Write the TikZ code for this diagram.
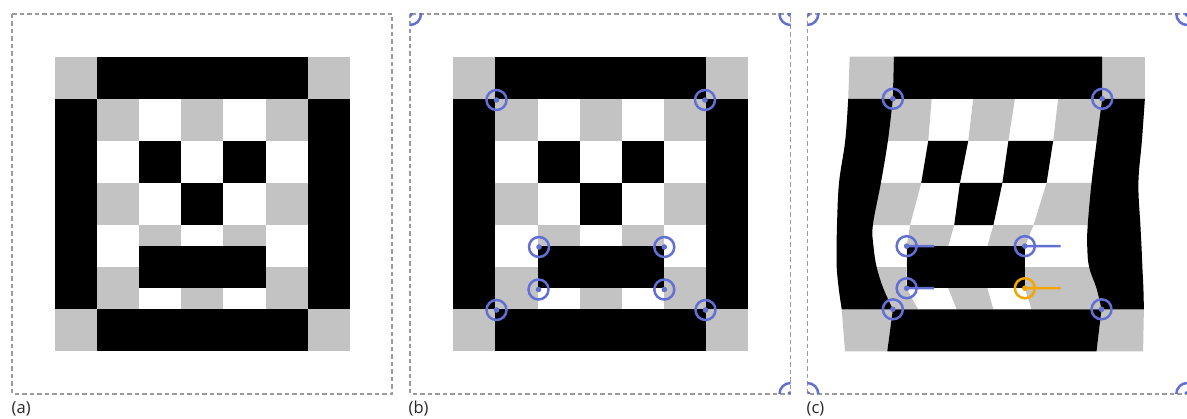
\documentclass[tikz,border=0pt]{standalone}
\usepackage{fontspec}
\setsansfont{Open Sans}
\definecolor{cellgray}{RGB}{195,195,195}
\definecolor{hblue}{RGB}{98,112,212}
\definecolor{horange}{RGB}{245,165,0}
\definecolor{framegray}{RGB}{155,155,155}
\tikzset{
  panel/.style={draw=framegray, line width=1.5pt, dash pattern=on 4.5pt off 3pt},
  ring/.style={line width=2.5pt},
  disp/.style={line width=2.5pt},
  lab/.style={anchor=base west, inner sep=0pt, font=\sffamily\fontsize{16.5}{19}\selectfont, text=black!85},
}
\newcommand\PlainFace[2]{%
  \begin{scope}[shift={(#1pt,-#2pt)}, x=42.17pt, y=-42.1pt]
    \foreach \c/\r in {0/0,6/0,0/6,6/6,1/1,3/1,5/1,1/3,5/3,2/4,4/4,1/5,3/5,5/5}
      {\fill[cellgray] (\c,\r) rectangle ++(1,1);}
    \fill (1,0) rectangle (6,1);
    \fill (1,6) rectangle (6,7);
    \fill (0,1) rectangle (1,6);
    \fill (6,1) rectangle (7,6);
    \fill (2,2) rectangle (3,3);
    \fill (4,2) rectangle (5,3);
    \fill (3,3) rectangle (4,4);
    \fill (2,4.5) rectangle (5,5.5);
  \end{scope}}
\newcommand\Handle[2]{%
  \draw[ring, draw=#2] (#1) circle[radius=10pt];
  \fill[#2] (#1) circle[radius=2.8pt];}
\newcommand\WRow[9]{%
  \coordinate (W0-#1) at ({849.7+(#2)},{56.7+4.21*#1});
  \coordinate (W1-#1) at ({891.87+(#3)},{56.7+4.21*#1});
  \coordinate (W2-#1) at ({934.04+(#4)},{56.7+4.21*#1});
  \coordinate (W3-#1) at ({976.21+(#5)},{56.7+4.21*#1});
  \coordinate (W4-#1) at ({1018.38+(#6)},{56.7+4.21*#1});
  \coordinate (W5-#1) at ({1060.55+(#7)},{56.7+4.21*#1});
  \coordinate (W6-#1) at ({1102.72+(#8)},{56.7+4.21*#1});
  \coordinate (W7-#1) at ({1144.89+(#9)},{56.7+4.21*#1});
  \coordinate (H0-#1) at ({870.785+0.5*(#2)+0.5*(#3)},{56.7+4.21*#1});
  \coordinate (H6-#1) at ({1123.805+0.5*(#8)+0.5*(#9)},{56.7+4.21*#1});}
\begin{document}
\begin{tikzpicture}[x=1pt,y=-1pt]
\useasboundingbox (0,0) rectangle (1187,419);

% ---------- (a) ----------
\PlainFace{54.7}{56.7}

% ---------- (b) ----------
\PlainFace{453.3}{56.7}
\coordinate (b1) at (496.5,100);
\coordinate (b2) at (705,100);
\coordinate (b3) at (539,247);
\coordinate (b4) at (664.3,247);
\coordinate (b5) at (538.5,289.5);
\coordinate (b6) at (664.3,289.5);
\coordinate (b7) at (496.5,310);
\coordinate (b8) at (705.5,310);
\foreach \h in {b1,b2,b3,b4,b5,b6,b7,b8} {\Handle{\h}{hblue}}

% ---------- (c) warped ----------
\WRow{0}{0}{2}{1}{0}{0}{0}{-0.5}{0}
\WRow{10}{-1.5}{1}{-2.4}{-3}{-3.5}{-2.4}{-0.5}{0}
\WRow{20}{-4.5}{-4}{-5.8}{-8}{-10}{-7.4}{-6}{-3}
\WRow{30}{-10.7}{-11}{-12.8}{-16.3}{-16}{-14}{-11.2}{-6.5}
\WRow{40}{-12.7}{-19}{-24}{-22}{-25}{-27}{-15}{-4.5}
\WRow{45}{-13}{-18.4}{-27.4}{-28}{-31}{-35.7}{-15.5}{-3.4}
\WRow{50}{-13}{-15.2}{-27.4}{-28}{-31}{-35.7}{-13.6}{-2.5}
\WRow{55}{-11}{-8.6}{-27.4}{-28}{-31}{-35.7}{-6.2}{-1.5}
\WRow{60}{-8}{1}{-16}{-19.6}{-25}{-29}{-1.2}{-1}
\WRow{70}{-4.7}{-4.6}{-5}{-5}{-5.5}{-6}{-6.2}{-1.8}

% gray corner cells
\fill[cellgray] (W0-0) -- (W1-0) -- (W1-10) -- (W0-10) -- cycle;
\fill[cellgray] (W6-0) -- (W7-0) -- (W7-10) -- (W6-10) -- cycle;
\fill[cellgray] (W0-60) -- (W1-60) -- (W1-70) -- (W0-70) -- cycle;
\fill[cellgray] (W6-60) -- (W7-60) -- (W7-70) -- (W6-70) -- cycle;
% gray inner cells
\fill[cellgray] (H0-10) -- (W2-10) -- (W2-20) -- (H0-20) -- cycle;
\fill[cellgray] (W3-10) -- (W4-10) -- (W4-20) -- (W3-20) -- cycle;
\fill[cellgray] (W5-10) -- (H6-10) -- (H6-20) -- (W5-20) -- cycle;
\fill[cellgray] (H0-30) -- (W2-30) -- (W2-40) -- (H0-40) -- cycle;
\fill[cellgray] (W5-30) -- (H6-30) -- (H6-40) -- (W5-40) -- cycle;
\fill[cellgray] (W2-40) -- (W3-40) -- (W3-45) -- (W3-50) -- (W2-50) -- (W2-45) -- cycle;
\fill[cellgray] (W4-40) -- (W5-40) -- (W5-45) -- (W5-50) -- (W4-50) -- (W4-45) -- cycle;
\fill[cellgray] (H0-50) -- (W2-50) -- (W2-55) -- (W2-60) -- (H0-60) -- (H0-55) -- cycle;
\fill[cellgray] (W3-50) -- (W4-50) -- (W4-55) -- (W4-60) -- (W3-60) -- (W3-55) -- cycle;
\fill[cellgray] (W5-50) -- (H6-50) -- (H6-55) -- (H6-60) -- (W5-60) -- (W5-55) -- cycle;
% black shapes
\fill (W1-0) -- (W6-0) -- (W6-10) -- (W1-10) -- cycle;
\fill (W1-60) -- (W6-60) -- (W6-70) -- (W1-70) -- cycle;
\fill (W0-10) -- plot[smooth,tension=0.6] coordinates {(W1-10) (W1-20) (W1-30) (W1-40) (W1-45) (W1-50) (W1-55) (W1-60)}
  -- plot[smooth,tension=0.6] coordinates {(W0-60) (W0-55) (W0-50) (W0-45) (W0-40) (W0-30) (W0-20) (W0-10)} -- cycle;
\fill (W6-10) -- plot[smooth,tension=0.6] coordinates {(W7-10) (W7-20) (W7-30) (W7-40) (W7-45) (W7-50) (W7-55) (W7-60)}
  -- plot[smooth,tension=0.6] coordinates {(W6-60) (W6-55) (W6-50) (W6-45) (W6-40) (W6-30) (W6-20) (W6-10)} -- cycle;
\fill (W2-20) -- (W3-20) -- (W3-30) -- (W2-30) -- cycle;
\fill (W4-20) -- (W5-20) -- (W5-30) -- (W4-30) -- cycle;
\fill (W3-30) -- (W4-30) -- (W4-40) -- (W3-40) -- cycle;
\fill (W2-45) -- (W5-45) -- (W5-55) -- (W2-55) -- cycle;

% displacement lines (handle -> original position)
\coordinate (O2-45) at (934.04,246.15);
\coordinate (O5-45) at (1060.55,246.15);
\coordinate (O2-55) at (934.04,288.25);
\coordinate (O5-55) at (1060.55,288.25);
\draw[disp, hblue] (W2-45) -- (O2-45);
\draw[disp, hblue] (W5-45) -- (O5-45);
\draw[disp, hblue] (W2-55) -- (O2-55);
\draw[disp, horange] (W5-55) -- (O5-55);
\foreach \h in {W1-10,W6-10,W1-60,W6-60,W2-45,W5-45,W2-55} {\Handle{\h}{hblue}}
\Handle{W5-55}{horange}

% ---------- panel frames ----------
\draw[panel] (12,14) rectangle (392,394);
\draw[panel] (410,14) rectangle (790.5,394);
\draw[panel] (807.3,14) rectangle (1187.3,394);

% corner markers
\begin{scope}
  \clip (410,14) rectangle (790.5,394);
  \foreach \px/\py in {410/14, 790.5/14, 790.5/394} {
    \draw[ring, hblue] (\px,\py) circle[radius=11pt];
    \fill[hblue] (\px,\py) circle[radius=3pt];}
\end{scope}
\begin{scope}
  \clip (807.3,14) rectangle (1187.3,394);
  \foreach \px/\py in {807.3/14, 1187.3/14, 807.3/394, 1187.3/394} {
    \draw[ring, hblue] (\px,\py) circle[radius=11pt];
    \fill[hblue] (\px,\py) circle[radius=3pt];}
\end{scope}

% labels
\node[lab] (la) at (11.5,414) {(a)};
\node[lab] (lb) at (408.5,414) {(b)};
\node[lab] (lc) at (806.5,414) {(c)};
\end{tikzpicture}
\end{document}
